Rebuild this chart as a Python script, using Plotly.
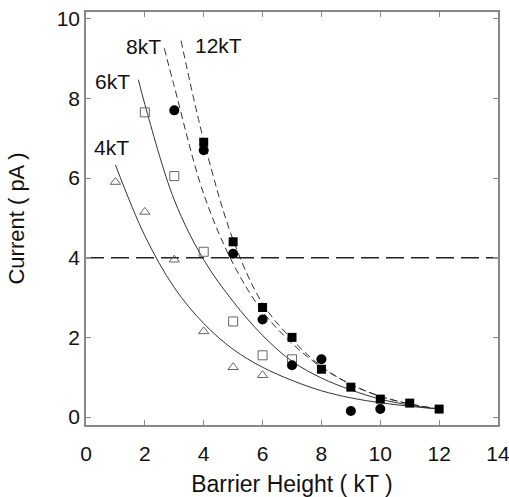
import plotly.graph_objects as go

# ---- measured data points ----
tri_x = [1, 2, 3, 4, 5, 6]
tri_y = [5.9, 5.15, 3.95, 2.15, 1.25, 1.05]

osq_x = [2, 3, 4, 5, 6, 7]
osq_y = [7.65, 6.05, 4.15, 2.4, 1.55, 1.45]

circ_x = [3, 4, 5, 6, 7, 8, 9, 10]
circ_y = [7.7, 6.7, 4.1, 2.45, 1.3, 1.45, 0.15, 0.2]

fsq_x = [4, 5, 6, 7, 8, 9, 10, 11, 12]
fsq_y = [6.9, 4.4, 2.75, 2.0, 1.2, 0.75, 0.45, 0.35, 0.2]

# ---- fitted curves ----
c4_x = [1.0, 2, 3, 4, 5, 6, 7, 8, 9, 10, 11, 12]
c4_y = [6.33, 4.55, 3.25, 2.35, 1.7, 1.25, 0.92, 0.66, 0.48, 0.36, 0.27, 0.2]

c6_x = [1.78, 2, 3, 4, 5, 6, 7, 8, 9, 10, 11, 12]
c6_y = [8.47, 7.85, 5.45, 3.95, 2.9, 2.05, 1.4, 0.98, 0.68, 0.45, 0.3, 0.2]

c8_x = [2.66, 3, 4, 5, 6, 7, 8, 9, 10, 11, 12]
c8_y = [9.26, 8.3, 5.6, 3.85, 2.65, 1.85, 1.25, 0.82, 0.52, 0.33, 0.2]

c12_x = [3.23, 4, 5, 6, 7, 8, 9, 10, 11, 12]
c12_y = [9.45, 6.95, 4.45, 2.85, 1.95, 1.27, 0.82, 0.52, 0.33, 0.2]

ref_x = [0, 14]
ref_y = [4, 4]

labels = ["4kT", "6kT", "8kT", "12kT"]
label_x = [0.22, 0.25, 1.3, 3.62]
label_y = [6.76, 8.42, 9.31, 9.33]

tick_vals_x = [0, 2, 4, 6, 8, 10, 12, 14]
tick_vals_y = [0, 2, 4, 6, 8, 10]

FONT = "Liberation Sans, Arial, sans-serif"
LINE = "#333333"
TXT = "#111111"

fig = go.Figure()

fig.add_trace(go.Scatter(x=ref_x, y=ref_y, mode="lines",
                         line=dict(color="#222222", width=1.3, dash="18px,7px"),
                         hoverinfo="skip"))

for cx, cy, dash in [(c4_x, c4_y, "solid"), (c6_x, c6_y, "solid"),
                     (c8_x, c8_y, "7px,4px"), (c12_x, c12_y, "7px,4px")]:
    fig.add_trace(go.Scatter(x=cx, y=cy, mode="lines",
                             line=dict(color=LINE, width=1.0, dash=dash, shape="spline", smoothing=1.0)))

fig.add_trace(go.Scatter(x=tri_x, y=tri_y, mode="markers",
                         marker=dict(symbol="triangle-up-open", size=9, color="#666666", line=dict(width=1))))
fig.add_trace(go.Scatter(x=osq_x, y=osq_y, mode="markers",
                         marker=dict(symbol="square-open", size=9, color="#666666", line=dict(width=1))))
fig.add_trace(go.Scatter(x=circ_x, y=circ_y, mode="markers",
                         marker=dict(symbol="circle", size=10, color="#000000")))
fig.add_trace(go.Scatter(x=fsq_x, y=fsq_y, mode="markers",
                         marker=dict(symbol="square", size=9, color="#000000")))

for t, lx, ly in zip(labels, label_x, label_y):
    fig.add_annotation(x=lx, y=ly, text=t, showarrow=False, xanchor="left", yanchor="middle",
                       font=dict(family=FONT, size=21, color=TXT))

axis_common = dict(showline=True, linecolor="#888888", linewidth=1.5, mirror="ticks",
                   ticks="inside", ticklen=5, tickcolor="#888888", tickwidth=1,
                   showgrid=False, zeroline=False, automargin=False,
                   ticklabeloverflow="allow",
                   tickfont=dict(family=FONT, size=21, color=TXT))

fig.update_layout(
    width=509, height=497,
    margin=dict(l=86, r=11, t=12, b=72),
    paper_bgcolor="white", plot_bgcolor="white",
    showlegend=False,
    xaxis=dict(range=[0, 14], tickvals=tick_vals_x, ticklabelstandoff=9,
               title=dict(text="Barrier Height ( kT )", standoff=15,
                          font=dict(family=FONT, size=23, color=TXT)),
               **axis_common),
    yaxis=dict(range=[-0.2, 10.17], tickvals=tick_vals_y,
               title=dict(text="Current ( pA )", standoff=26,
                          font=dict(family=FONT, size=22, color=TXT)),
               **axis_common),
)

fig.write_html("out.html", config={"displayModeBar": False},
               post_script="document.body.style.margin='0';document.body.style.padding='0';")
